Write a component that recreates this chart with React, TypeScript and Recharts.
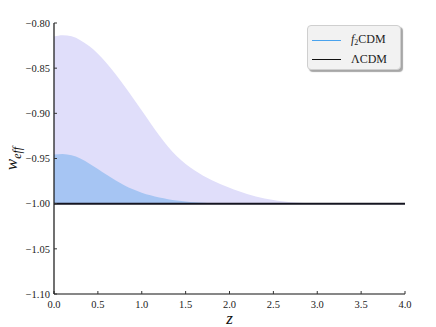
import React from 'react';
import { ComposedChart, Area, Line, XAxis, YAxis } from 'recharts';

const zValues = [0, 0.1, 0.2, 0.3, 0.4, 0.5, 0.6, 0.7, 0.8, 0.9, 1.0, 1.1, 1.2, 1.3, 1.4, 1.5, 1.6, 1.7, 1.8, 1.9, 2.0, 2.1, 2.2, 2.3, 2.4, 2.5, 2.6, 2.7, 2.8, 2.9, 3.0, 3.5, 4.0];
const outerBand = [-0.815, -0.8135, -0.8148, -0.819, -0.8255, -0.834, -0.8445, -0.8565, -0.8695, -0.883, -0.897, -0.911, -0.9245, -0.937, -0.9475, -0.956, -0.963, -0.969, -0.974, -0.9785, -0.9825, -0.986, -0.9892, -0.992, -0.9943, -0.996, -0.9973, -0.9983, -0.999, -0.9996, -1.0, -1.0, -1.0];
const innerBand = [-0.9455, -0.945, -0.9465, -0.95, -0.9555, -0.9615, -0.968, -0.974, -0.9795, -0.984, -0.9878, -0.9908, -0.9932, -0.995, -0.9965, -0.9976, -0.9985, -0.9991, -0.9995, -0.9998, -1.0, -1.0, -1.0, -1.0, -1.0, -1.0, -1.0, -1.0, -1.0, -1.0, -1.0, -1.0, -1.0];
const lcdm = zValues.map(() => -1.0);
const xTicks = [0, 0.5, 1.0, 1.5, 2.0, 2.5, 3.0, 3.5, 4.0];
const yTicks = [-1.1, -1.05, -1.0, -0.95, -0.9, -0.85, -0.8];
const seriesNames = ['f2CDM', 'ΛCDM'];

const data = zValues.map((z, i) => ({ z, outer: outerBand[i], inner: innerBand[i], lcdm: lcdm[i] }));

const FONT = "'Liberation Serif', 'DejaVu Serif', serif";

const fmtY = (v: number) => (v < 0 ? '\u2212' : '') + Math.abs(v).toFixed(2);
const fmtX = (v: number) => v.toFixed(1);

const LegendBox = () => (
  <div
    style={{
      position: 'absolute',
      left: 307,
      top: 25,
      width: 94,
      height: 45,
      background: '#f2f2f2',
      border: '1px solid #cfcfcf',
      borderRadius: 4,
      boxShadow: '2px 2px 1px rgba(0,0,0,0.35)',
      fontFamily: FONT,
      fontSize: 12,
      boxSizing: 'border-box',
    }}
  >
    <div style={{ position: 'absolute', left: 4, top: 14, width: 29, height: 0, borderTop: '1.5px solid #4aa3ee' }} />
    <div style={{ position: 'absolute', left: 43, top: 5, lineHeight: '16px', color: '#222' }}>
      <i>f</i><span style={{ fontSize: 8, position: 'relative', top: 2 }}>2</span>CDM
    </div>
    <div style={{ position: 'absolute', left: 4, top: 33, width: 29, height: 0, borderTop: '1.5px solid #111' }} />
    <div style={{ position: 'absolute', left: 43, top: 25, lineHeight: '16px', color: '#222' }}>{seriesNames[1]}</div>
  </div>
);

const YLabel = (props: any) => {
  const vb = props.viewBox || {};
  const cx = 17;
  const cy = vb.y + vb.height / 2;
  return (
    <text transform={`translate(${cx},${cy}) rotate(-90)`} textAnchor="middle" style={{ fontFamily: FONT, fontStyle: 'italic' }} fill="#111" fontSize={17}>
      w<tspan fontSize={12} dy={4}>eff</tspan>
    </text>
  );
};

const XLabel = (props: any) => {
  const vb = props.viewBox || {};
  return (
    <text x={vb.x + vb.width / 2} y={vb.y + 30} textAnchor="middle" style={{ fontFamily: FONT, fontStyle: 'italic' }} fill="#111" fontSize={17}>
      z
    </text>
  );
};

const tickStyle = { fontFamily: FONT, fontSize: 10.5, fill: '#222', style: { fontFamily: FONT } };

export default function App() {
  return (
    <div style={{ position: 'absolute', left: 0, top: 0, width: 436, height: 327, background: '#fff' }}>
      <ComposedChart width={436} height={327} data={data} margin={{ top: 23, right: 31, bottom: 0, left: 0 }} style={{ fontFamily: FONT }}>
        <XAxis
          dataKey="z"
          type="number"
          domain={[0, 4]}
          ticks={xTicks}
          tickFormatter={fmtX}
          allowDataOverflow
          axisLine={{ stroke: '#111', strokeWidth: 1.2 }}
          tickLine={{ stroke: '#333' }}
          tickSize={-3}
          tickMargin={10}
          tick={tickStyle}
          height={33}
          label={<XLabel />}
        />
        <XAxis xAxisId="top" orientation="top" dataKey="z" type="number" domain={[0, 4]} tick={false} tickLine={false} axisLine={{ stroke: '#555', strokeWidth: 1.5 }} height={0} />
        <YAxis
          type="number"
          domain={[-1.1, -0.8]}
          ticks={yTicks}
          tickFormatter={fmtY}
          allowDataOverflow
          axisLine={{ stroke: '#111', strokeWidth: 1.2 }}
          tickLine={{ stroke: '#333' }}
          tickSize={-3}
          tickMargin={7}
          tick={tickStyle}
          width={54}
          label={<YLabel />}
        />
        <YAxis yAxisId="right" orientation="right" type="number" domain={[-1.1, -0.8]} tick={false} tickLine={false} axisLine={{ stroke: '#333', strokeWidth: 1.5 }} width={0} />
        <Area type="monotone" dataKey="outer" baseValue={-1} stroke="none" fill="#e0defa" fillOpacity={1} isAnimationActive={false} />
        <Area type="monotone" dataKey="inner" baseValue={-1} stroke="none" fill="#a6c5f3" fillOpacity={1} isAnimationActive={false} />
        <Line type="monotone" dataKey="lcdm" stroke="#151520" strokeWidth={2} dot={false} isAnimationActive={false} />
      </ComposedChart>
      <LegendBox />
    </div>
  );
}
